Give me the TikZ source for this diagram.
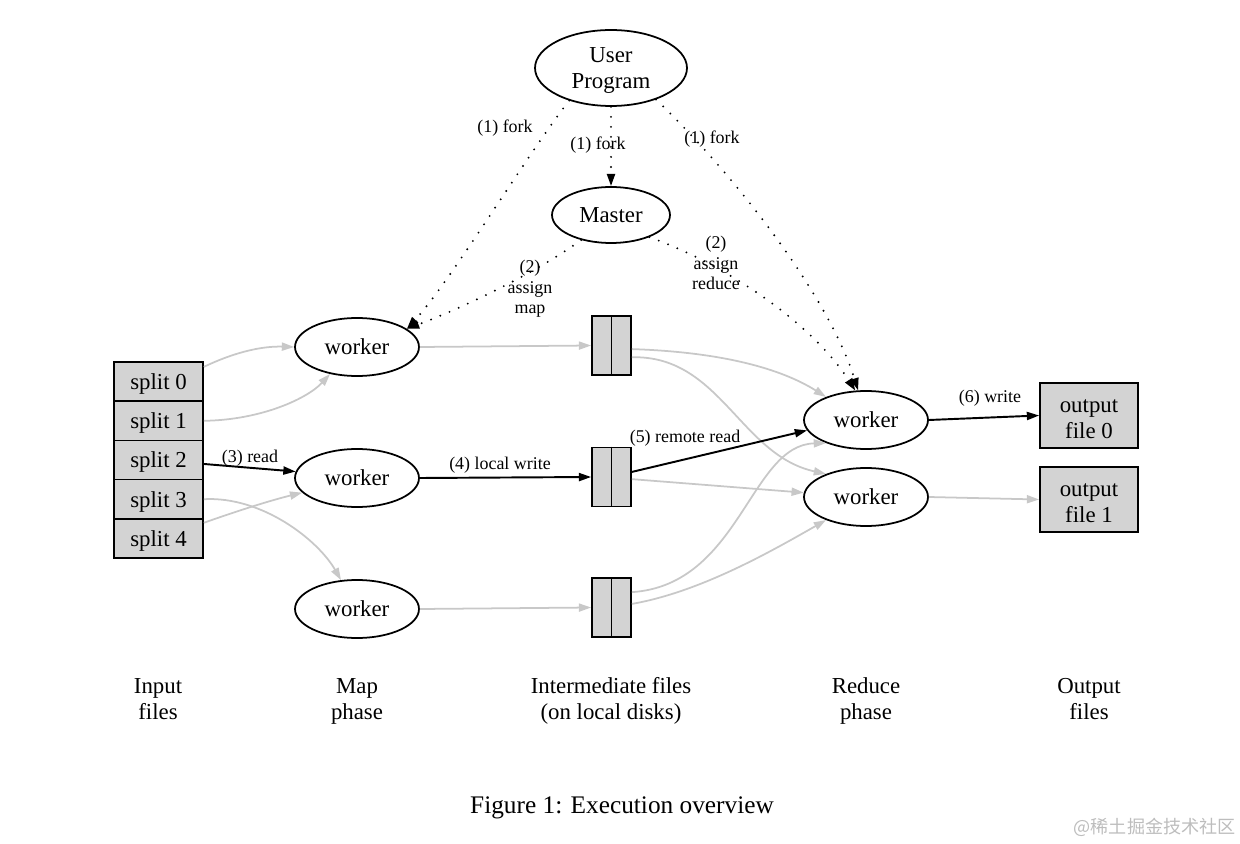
\documentclass[tikz,border=0pt]{standalone}
\usepackage{fontspec}
\setmainfont{Liberation Serif}
\newfontfamily\cjkfont{Noto Sans CJK SC}
\usetikzlibrary{shapes.geometric,arrows.meta}
\definecolor{boxgray}{HTML}{D3D3D3}
\definecolor{edgegray}{HTML}{C8C8C8}
\definecolor{markgray}{HTML}{BDBDBD}
\newcommand\tallrule[1]{\rule{0pt}{#1}}
\begin{document}
\begin{tikzpicture}[x=0.02cm,y=-0.02cm,
  ell/.style={ellipse,draw,line width=1pt,inner sep=0pt,align=center,font=\fontsize{13}{14.8}\selectfont},
  wrk/.style={ell,minimum width=2.48cm,minimum height=1.16cm},
  splitbox/.style={rectangle,draw,fill=boxgray,line width=1pt,inner sep=0pt,minimum width=1.78cm,minimum height=0.784cm,text depth=0pt,font=\fontsize{13}{14.8}\selectfont},
  filebox/.style={rectangle,draw,fill=boxgray,line width=1pt,inner sep=0pt,minimum width=0.78cm,minimum height=1.18cm},
  outbox/.style={rectangle,draw,fill=boxgray,line width=1pt,inner sep=0pt,align=center,minimum width=1.96cm,minimum height=1.3cm,font=\fontsize{13}{14.8}\selectfont},
  tip/.style={-{Triangle[length=7pt,width=4.6pt]}},
  gedge/.style={tip,draw=edgegray,line width=1pt},
  bedge/.style={tip,draw=black,line width=1.1pt},
  dedge/.style={tip,draw=black,line width=1.2pt,line cap=round,dash pattern=on 0pt off 5.7pt},
  lbl/.style={inner sep=0pt,align=center,font=\fontsize{10.2}{11.7}\selectfont},
  phase/.style={inner sep=0pt,align=center,font=\fontsize{13}{14.8}\selectfont}
]
\useasboundingbox (0,0) rectangle (1240,844);

% nodes
\node[ell,minimum width=3.04cm,minimum height=1.52cm] (up) at (611,68) {\tallrule{11.4pt}User\\Program};
\node[ell,minimum width=2.36cm,minimum height=1.12cm] (m) at (611,215) {Master};

\node[wrk] (w1) at (357,347) {worker};
\node[wrk] (w2) at (357,478) {worker};
\node[wrk] (w3) at (357,609) {worker};

\node[splitbox] (s0) at (158.5,381.6) {split 0};
\node[splitbox] (s1) at (158.5,420.8) {split 1};
\node[splitbox] (s2) at (158.5,460.0) {split 2};
\node[splitbox] (s3) at (158.5,499.2) {split 3};
\node[splitbox] (s4) at (158.5,538.4) {split 4};

\node[filebox] (f1) at (611.5,345.5) {};
\node[filebox] (f2) at (611.5,477) {};
\node[filebox] (f3) at (611.5,607.5) {};
\draw[line width=1pt] (f1.north) -- (f1.south);
\draw[line width=1pt] (f2.north) -- (f2.south);
\draw[line width=1pt] (f3.north) -- (f3.south);

\node[wrk] (r1) at (866,420) {worker};
\node[wrk] (r2) at (866,497) {worker};

\node[outbox] (o0) at (1089,415.5) {\tallrule{12pt}output\\file 0};
\node[outbox] (o1) at (1089,499.5) {\tallrule{12pt}output\\file 1};

% input -> map
\draw[gedge] (s0.18) .. controls (235,352) and (262,346) .. (w1.west);
\draw[gedge] (s1.east) .. controls (262,420) and (308,398) .. (w1.225);
\draw[bedge] (s2.-5) -- (w2.174);
\draw[gedge] (s3.east) .. controls (262,496) and (318,540) .. (w3.119);
\draw[gedge] (s4.19) .. controls (240,510) and (272,500) .. (w2.195);

% map -> intermediate
\draw[gedge] (w1.east) -- (f1.west);
\draw[bedge] (w2.east) -- (f2.west);
\draw[gedge] (w3.east) -- (f3.west);

% intermediate -> reduce
\draw[gedge] (f1.-10) .. controls (720,352) and (780,368) .. (r1.150);
\draw[gedge] (f1.-30) .. controls (720,355) and (740,455) .. (r2.150);
\draw[bedge] (f2.14) -- (r1.190);
\draw[gedge] (f2.-6) -- (r2.176);
\draw[gedge] (f3.37) .. controls (740,585) and (750,445) .. (r1.210);
\draw[gedge] (f3.10) .. controls (700,592) and (770,552) .. (r2.210);

% reduce -> output
\draw[bedge] (r1.east) -- (o0.west);
\draw[gedge] (r2.east) -- (o1.west);

% fork / assign
\draw[dedge] (up.218) .. controls (530,150) and (450,282) .. (w1.20);
\draw[dedge] (up.south) -- (m.north);
\draw[dedge] (up.-35) .. controls (740,180) and (830,300) .. (r1.105);
\draw[dedge] (m.220) .. controls (540,270) and (470,305) .. (w1.20);
\draw[dedge] (m.-30) .. controls (720,262) and (810,320) .. (r1.110);

% edge labels
\node[lbl] (lf1) at (505,128) {(1) fork};
\node[lbl] (lf2) at (598,145) {(1) fork};
\node[lbl] (lf3) at (712,139) {(1) fork};
\node[lbl] (lam) at (530,289) {(2)\\assign\\map};
\node[lbl] (lar) at (716,263) {(2)\\assign\\reduce};
\node[lbl] (lrd) at (250,458) {(3) read};
\node[lbl] (llw) at (500,465) {(4) local write};
\node[lbl] (lrr) at (685,438) {(5) remote read};
\node[lbl] (lwr) at (990,398) {(6) write};

% phase labels
\node[phase] (pin) at (158,701.5) {Input\strut\\files\strut};
\node[phase] (pmap) at (357,701.5) {Map\strut\\phase\strut};
\node[phase] (pint) at (611,701.5) {Intermediate files\strut\\(on local disks)\strut};
\node[phase] (pred) at (866,701.5) {Reduce\strut\\phase\strut};
\node[phase] (pout) at (1089,701.5) {Output\strut\\files\strut};

\node[inner sep=0pt,font=\fontsize{14.4}{16}\selectfont] (cap) at (622,808) {Figure 1: Execution overview};
\node[inner sep=0pt,anchor=east,text=markgray,font=\cjkfont\fontsize{10.3}{12}\selectfont] (wm) at (1236,827) {@稀土掘金技术社区};
\end{tikzpicture}
\end{document}
